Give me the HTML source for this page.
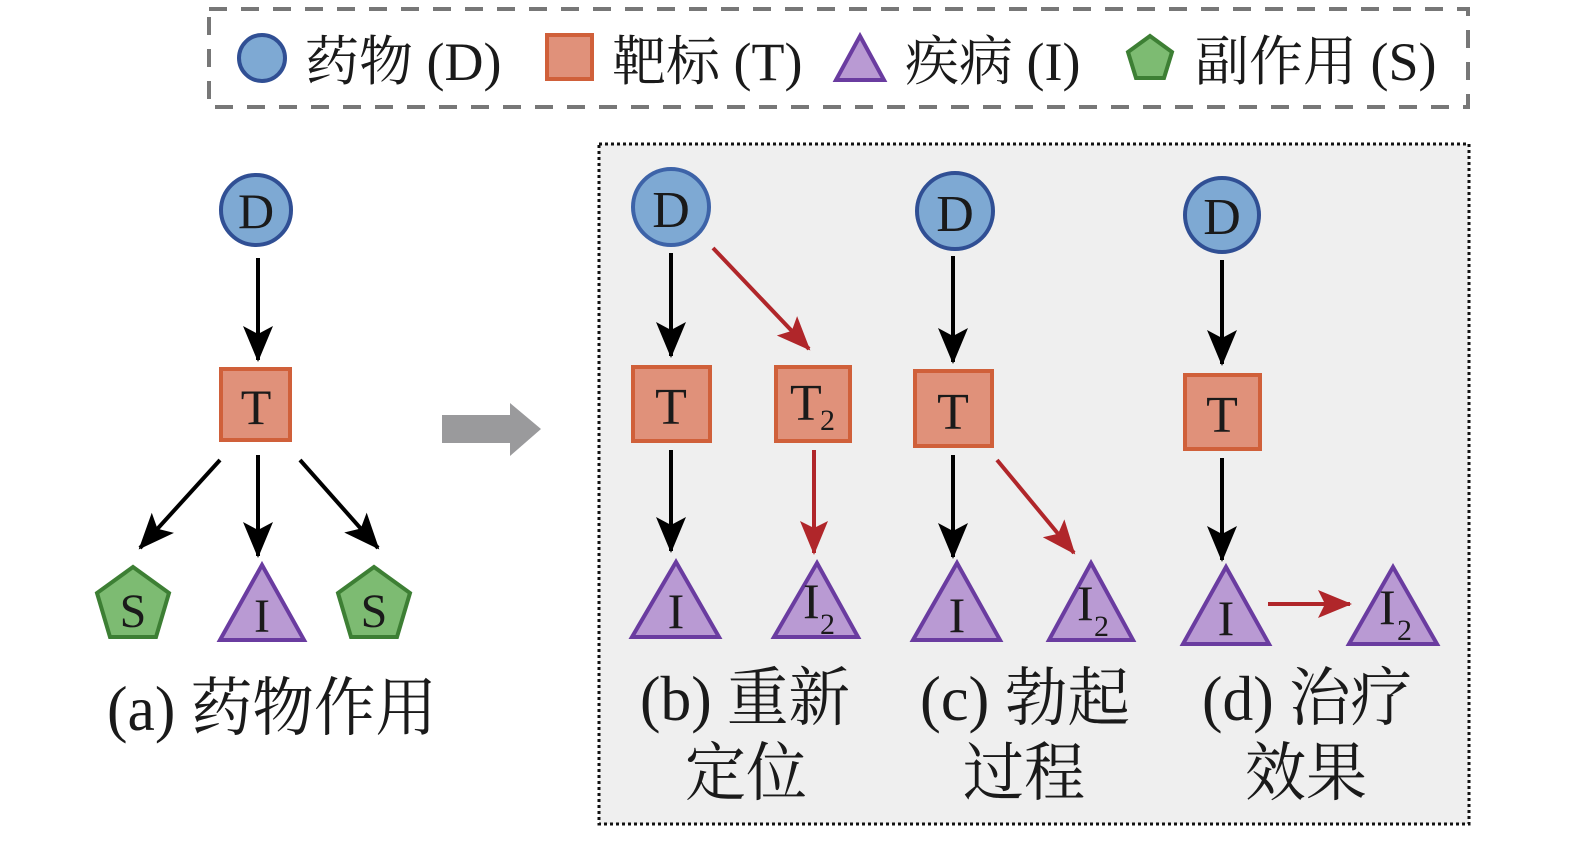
<!DOCTYPE html>
<html><head><meta charset="utf-8"><style>
html,body{margin:0;padding:0;background:#fff}
svg{display:block}
text{font-family:"Liberation Serif","Noto Serif CJK SC",serif;fill:#1a1a1a}
</style></head><body>
<svg width="1575" height="843" viewBox="0 0 1575 843" xmlns="http://www.w3.org/2000/svg">
<defs>
<marker id="ak" markerUnits="userSpaceOnUse" markerWidth="36" markerHeight="36" viewBox="0 0 36 36" refX="34" refY="18" orient="auto"><path d="M0,3 L36,18 L0,33 L8,18 Z" fill="#000"/></marker>
<marker id="ar" markerUnits="userSpaceOnUse" markerWidth="34" markerHeight="34" viewBox="0 0 34 34" refX="32" refY="17" orient="auto"><path d="M0,3 L34,17 L0,31 L7,17 Z" fill="#b0262a"/></marker>
</defs>
<rect x="0" y="0" width="1575" height="843" fill="#fff"/>
<!-- legend -->
<rect x="209" y="9" width="1259" height="98" fill="none" stroke="#777" stroke-width="4" stroke-dasharray="18,14"/>
<circle cx="262" cy="58" r="23" fill="#7ea9d3" stroke="#304f94" stroke-width="4"/>
<text x="305" y="80" font-size="54">药物 (D)</text>
<rect x="547" y="35" width="45" height="44" fill="#e0917a" stroke="#d0603a" stroke-width="4"/>
<text x="612" y="80" font-size="54">靶标 (T)</text>
<polygon points="860,36 884,80 836,80" fill="#b99ad3" stroke="#6a3ca0" stroke-width="4"/>
<text x="905" y="80" font-size="54">疾病 (I)</text>
<polygon points="1150,36 1172,52 1164,78 1136,78 1128,52" fill="#7dbb72" stroke="#3d7f34" stroke-width="4"/>
<text x="1195" y="80" font-size="54">副作用 (S)</text>

<!-- panel a -->
<g stroke-width="4">
<line x1="258" y1="258" x2="258" y2="360" stroke="#000" marker-end="url(#ak)"/>
<line x1="220" y1="460" x2="140" y2="548" stroke="#000" marker-end="url(#ak)"/>
<line x1="258" y1="455" x2="258" y2="556" stroke="#000" marker-end="url(#ak)"/>
<line x1="300" y1="460" x2="378" y2="548" stroke="#000" marker-end="url(#ak)"/>
</g>
<circle cx="256" cy="210" r="35" fill="#7ea9d3" stroke="#304f94" stroke-width="4"/>
<text x="256" y="228" font-size="50" text-anchor="middle">D</text>
<rect x="221" y="369" width="69" height="71" fill="#e0917a" stroke="#d0603a" stroke-width="4"/>
<text x="256" y="424" font-size="50" text-anchor="middle">T</text>
<polygon points="133,567 169,593 156,637 110,637 97,593" fill="#7dbb72" stroke="#3d7f34" stroke-width="4"/>
<text x="133" y="627" font-size="48" text-anchor="middle">S</text>
<polygon points="262,565 304,640 220,640" fill="#b99ad3" stroke="#6a3ca0" stroke-width="4"/>
<text x="262" y="632" font-size="48" text-anchor="middle">I</text>
<polygon points="374,567 410,593 397,637 351,637 338,593" fill="#7dbb72" stroke="#3d7f34" stroke-width="4"/>
<text x="374" y="627" font-size="48" text-anchor="middle">S</text>
<text x="107" y="730" font-size="64" textLength="330" lengthAdjust="spacingAndGlyphs">(a) 药物作用</text>

<!-- gray arrow -->
<polygon points="442,415 510,415 510,403 541,429 510,456 510,443 442,443" fill="#9a9a9c"/>

<!-- panel box -->
<rect x="599" y="144" width="870" height="680" fill="#efefef" stroke="#111" stroke-width="3" stroke-dasharray="3,3"/>

<!-- b -->
<g stroke-width="4">
<line x1="671" y1="253" x2="671" y2="356" stroke="#000" marker-end="url(#ak)"/>
<line x1="671" y1="450" x2="671" y2="551" stroke="#000" marker-end="url(#ak)"/>
<line x1="713" y1="248" x2="809" y2="349" stroke="#b0262a" marker-end="url(#ar)"/>
<line x1="814" y1="450" x2="814" y2="553" stroke="#b0262a" marker-end="url(#ar)"/>
</g>
<circle cx="671" cy="207" r="38" fill="#7ea9d3" stroke="#3d63a8" stroke-width="4"/>
<text x="671" y="227" font-size="52" text-anchor="middle">D</text>
<rect x="633" y="367" width="77" height="74" fill="#e0917a" stroke="#d0603a" stroke-width="4"/>
<text x="671" y="424" font-size="52" text-anchor="middle">T</text>
<rect x="776" y="367" width="74" height="74" fill="#e0917a" stroke="#d0603a" stroke-width="4"/>
<text x="790" y="420" font-size="52">T</text><text x="820" y="430" font-size="30">2</text>
<polygon points="676,562 719,637 632,637" fill="#b99ad3" stroke="#6a3ca0" stroke-width="4"/>
<text x="676" y="628" font-size="50" text-anchor="middle">I</text>
<polygon points="817,563 858,637 774,637" fill="#b99ad3" stroke="#6a3ca0" stroke-width="4"/>
<text x="803" y="618" font-size="50">I</text><text x="820" y="634" font-size="30">2</text>
<text x="640" y="720" font-size="64" textLength="210" lengthAdjust="spacingAndGlyphs">(b) 重新</text>
<text x="685" y="795" font-size="64" textLength="122" lengthAdjust="spacingAndGlyphs">定位</text>

<!-- c -->
<g stroke-width="4">
<line x1="953" y1="256" x2="953" y2="362" stroke="#000" marker-end="url(#ak)"/>
<line x1="953" y1="455" x2="953" y2="557" stroke="#000" marker-end="url(#ak)"/>
<line x1="997" y1="460" x2="1074" y2="553" stroke="#b0262a" marker-end="url(#ar)"/>
</g>
<circle cx="955" cy="211" r="38" fill="#7ea9d3" stroke="#304f94" stroke-width="4"/>
<text x="955" y="231" font-size="52" text-anchor="middle">D</text>
<rect x="915" y="371" width="77" height="75" fill="#e0917a" stroke="#d0603a" stroke-width="4"/>
<text x="953" y="429" font-size="52" text-anchor="middle">T</text>
<polygon points="957,563 1000,640 913,640" fill="#b99ad3" stroke="#6a3ca0" stroke-width="4"/>
<text x="957" y="632" font-size="50" text-anchor="middle">I</text>
<polygon points="1091,563 1133,640 1049,640" fill="#b99ad3" stroke="#6a3ca0" stroke-width="4"/>
<text x="1077" y="620" font-size="50">I</text><text x="1094" y="636" font-size="30">2</text>
<text x="920" y="720" font-size="64" textLength="210" lengthAdjust="spacingAndGlyphs">(c) 勃起</text>
<text x="963" y="795" font-size="64" textLength="122" lengthAdjust="spacingAndGlyphs">过程</text>

<!-- d -->
<g stroke-width="4">
<line x1="1222" y1="260" x2="1222" y2="364" stroke="#000" marker-end="url(#ak)"/>
<line x1="1222" y1="458" x2="1222" y2="560" stroke="#000" marker-end="url(#ak)"/>
<line x1="1268" y1="604" x2="1350" y2="604" stroke="#b0262a" marker-end="url(#ar)"/>
</g>
<circle cx="1222" cy="215" r="37" fill="#7ea9d3" stroke="#304f94" stroke-width="4"/>
<text x="1222" y="234" font-size="52" text-anchor="middle">D</text>
<rect x="1185" y="375" width="75" height="74" fill="#e0917a" stroke="#d0603a" stroke-width="4"/>
<text x="1222" y="432" font-size="52" text-anchor="middle">T</text>
<polygon points="1226,567 1269,644 1183,644" fill="#b99ad3" stroke="#6a3ca0" stroke-width="4"/>
<text x="1226" y="635" font-size="50" text-anchor="middle">I</text>
<polygon points="1393,567 1437,644 1349,644" fill="#b99ad3" stroke="#6a3ca0" stroke-width="4"/>
<text x="1379" y="624" font-size="50">I</text><text x="1397" y="640" font-size="30">2</text>
<text x="1202" y="720" font-size="64" textLength="210" lengthAdjust="spacingAndGlyphs">(d) 治疗</text>
<text x="1245" y="795" font-size="64" textLength="122" lengthAdjust="spacingAndGlyphs">效果</text>
</svg>
</body></html>
